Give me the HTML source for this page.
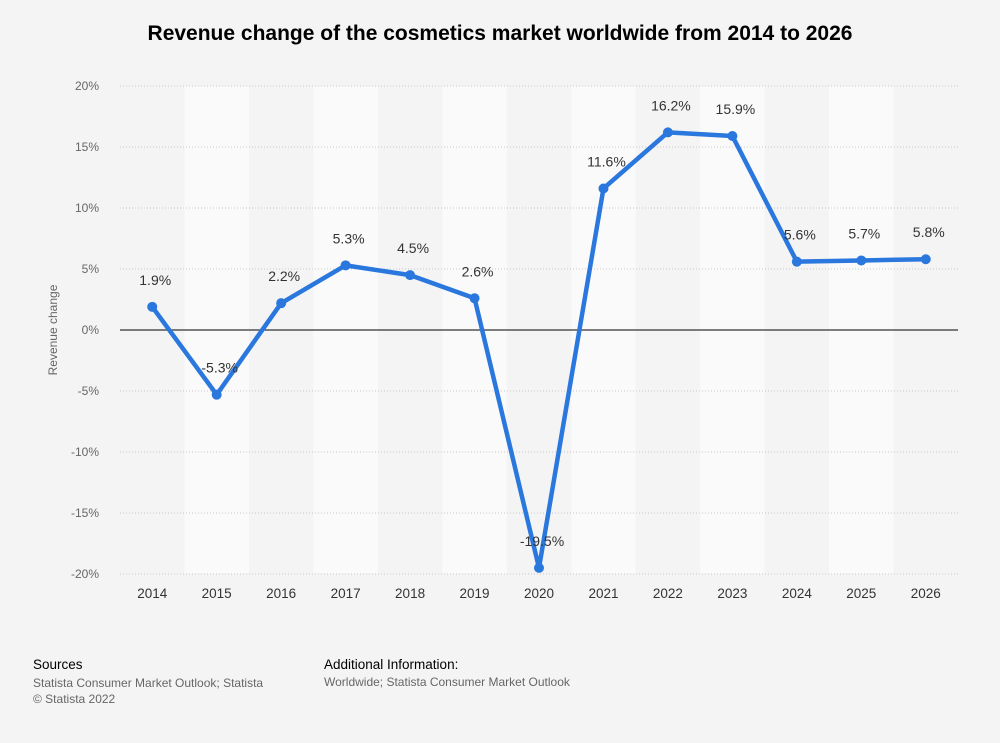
<!DOCTYPE html>
<html><head><meta charset="utf-8"><style>
body{margin:0;background:#f4f4f4;font-family:"Liberation Sans",sans-serif;}
#wrap{position:relative;width:1000px;height:743px;background:#f4f4f4;}
.t{position:absolute;}
</style></head><body>
<div id="wrap">
<div class="t" style="left:0;width:1000px;top:22px;text-align:center;font-weight:bold;font-size:21px;color:#000;">Revenue change of the cosmetics market worldwide from 2014 to 2026</div>
<svg id="chart" width="1000" height="743" style="position:absolute;left:0;top:0"></svg>
<div class="t" style="left:33px;top:657px;font-size:13.5px;color:#000;">Sources</div>
<div class="t" style="left:33px;top:675px;font-size:12px;color:#666;line-height:16px;">Statista Consumer Market Outlook; Statista<br>© Statista 2022</div>
<div class="t" style="left:324px;top:657px;font-size:13.5px;color:#000;">Additional Information:</div>
<div class="t" style="left:324px;top:675px;font-size:12px;color:#666;">Worldwide; Statista Consumer Market Outlook</div>
</div>
<script>
const categories=["2014","2015","2016","2017","2018","2019","2020","2021","2022","2023","2024","2025","2026"];
const values=[1.9,-5.3,2.2,5.3,4.5,2.6,-19.5,11.6,16.2,15.9,5.6,5.7,5.8];
const valueLabels=["1.9%","-5.3%","2.2%","5.3%","4.5%","2.6%","-19.5%","11.6%","16.2%","15.9%","5.6%","5.7%","5.8%"];
const yTicks=[20,15,10,5,0,-5,-10,-15,-20];
const svg=document.getElementById('chart');
const NS='http://www.w3.org/2000/svg';
const L=120,R=958,T=86,B=574,yMax=20,yMin=-20;
const bw=(R-L)/categories.length;
const x=i=>L+bw*(i+0.5);
const y=v=>T+(yMax-v)/(yMax-yMin)*(B-T);
function mk(tag,attrs){const e=document.createElementNS(NS,tag);for(const k in attrs)e.setAttribute(k,attrs[k]);svg.appendChild(e);return e;}
categories.forEach((c,i)=>{
 if(i%2===1){const r=mk('rect',{x:L+bw*i,y:T,width:bw,height:B-T,fill:'#fafafa'});
 
 }
 const t=mk('text',{x:x(i),y:598,'text-anchor':'middle','font-size':13.5,fill:'#333'});t.textContent=c;
 
 
});
yTicks.forEach(v=>{
 if(v!==0){const g=mk('line',{x1:L,x2:R,y1:y(v),y2:y(v),stroke:'#c8c8c8','stroke-dasharray':'1,2'});
 
 }
 const t=mk('text',{x:99,y:y(v)+4,'text-anchor':'end','font-size':12,fill:'#666'});t.textContent=v+'%';
 
 
});
const z=mk('line',{x1:L,x2:R,y1:y(0),y2:y(0),stroke:'#333','stroke-width':1.3});


const yt=mk('text',{x:0,y:0,'text-anchor':'middle','font-size':12,fill:'#666',transform:'translate(57,330) rotate(-90)'});yt.textContent='Revenue change';


const p=mk('polyline',{points:values.map((v,i)=>x(i)+','+y(v)).join(' '),fill:'none',stroke:'#2a77de','stroke-width':4.5,'stroke-linejoin':'round'});


values.forEach((v,i)=>{
 const c=mk('circle',{cx:x(i),cy:y(v),r:5,fill:'#2a77de'});
 
 
 const t=mk('text',{x:x(i)+3,y:y(v)-22,'text-anchor':'middle','font-size':14,fill:'#333'});t.textContent=valueLabels[i];
 
 
});
</script>
</body></html>
